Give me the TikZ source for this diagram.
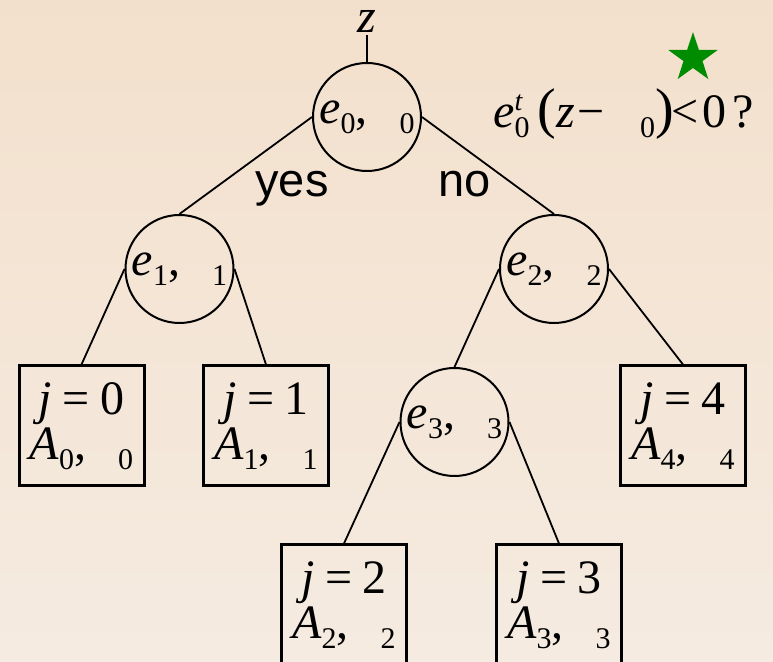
\documentclass[tikz,border=0pt]{standalone}
\usepackage{fontspec}
\setmainfont{Liberation Serif}
\setsansfont{Liberation Sans}
\usepackage{xcolor}
\usepackage{tikz}
\usetikzlibrary{shapes.geometric}

\definecolor{paperTop}{RGB}{243,224,204}
\definecolor{paperBot}{RGB}{245,235,225}
\definecolor{starGreen}{RGB}{0,140,0}

% lowered and raised indices in text mode
\newcommand{\lowidx}[1]{\raisebox{-5pt}{\fontsize{15}{15}\selectfont #1}}
\newcommand{\highidx}[1]{\raisebox{8.5pt}{\fontsize{14}{14}\selectfont\itshape #1}}
\newcommand{\pairlab}[3]{{\itshape #1}\lowidx{#2},\hspace{16pt}\lowidx{#3}}
\newcommand{\leaflab}[2]{{\itshape j}\hspace{0.22em}=\hspace{0.22em}#2\\\pairlab{A}{#1}{#1}}

\begin{document}
\begin{tikzpicture}[x=0.5pt, y=-0.5pt, font=\fontsize{24}{22.5}\selectfont,
  split/.style={circle, draw, line width=1pt, minimum size=54pt, inner sep=0pt},
  leaf/.style={rectangle, draw, line width=1.5pt, minimum width=62.5pt,
               minimum height=60pt, inner sep=0pt, align=center},
  branch/.style={line width=0.9pt},
  answer/.style={font=\sffamily\fontsize{23.5}{23.5}\selectfont, anchor=base west, inner sep=0pt}]
  % page, fixed to the reference size; the lowest boxes run off its bottom
  \path[use as bounding box, clip] (0,0) rectangle (773,662);
  \shade[top color=paperTop, bottom color=paperBot] (0,0) rectangle (773,662);
  % split nodes
  \node[anchor=base, inner sep=1pt] (z) at (367,33) {\itshape z};
  \node[split] (n0) at (367,117) {\pairlab{e}{0}{0}};
  \node[split] (n1) at (179.5,269) {\pairlab{e}{1}{1}};
  \node[split] (n2) at (554,269) {\pairlab{e}{2}{2}};
  \node[split] (n3) at (454.5,422) {\pairlab{e}{3}{3}};
  % leaves
  \node[leaf] (j0) at (81.5,426) {\leaflab{0}{0}};
  \node[leaf] (j1) at (266,426) {\leaflab{1}{1}};
  \node[leaf] (j4) at (683,426) {\leaflab{4}{4}};
  \node[leaf] (j2) at (344,605) {\leaflab{2}{2}};
  \node[leaf] (j3) at (559,605) {\leaflab{3}{3}};
  % branches leave a circle at its sides and meet the child at its top
  \draw[branch] (z.south) -- (n0.north);
  \draw[branch] (n0.west) -- (n1.north);
  \draw[branch] (n0.east) -- (n2.north);
  \draw[branch] (n1.west) -- (j0.north);
  \draw[branch] (n1.east) -- (j1.north);
  \draw[branch] (n2.west) -- (n3.north);
  \draw[branch] (n2.east) -- (j4.north);
  \draw[branch] (n3.west) -- (j2.north);
  \draw[branch] (n3.east) -- (j3.north);
  % branch answers
  \node[answer] (yes) at (255,197) {yes};
  \node[answer] (no) at (438,197) {no};
  % test at the root, marked by the star
  \node[anchor=base west, inner sep=0pt] (test) at (493,128)
    {{\itshape e}\rlap{\highidx{t}}\lowidx{0}\kern4pt{\fontsize{28}{28}\selectfont(}{\itshape z}\kern1pt−\hspace{18pt}\lowidx{0}{\fontsize{28}{28}\selectfont)}\kern-1pt<\kern2pt0\kern3pt?};
  \node[star, star points=5, star point ratio=2.6, minimum size=26pt, inner sep=0pt,
        fill=starGreen] (mark) at (693,58) {};
\end{tikzpicture}
\end{document}
